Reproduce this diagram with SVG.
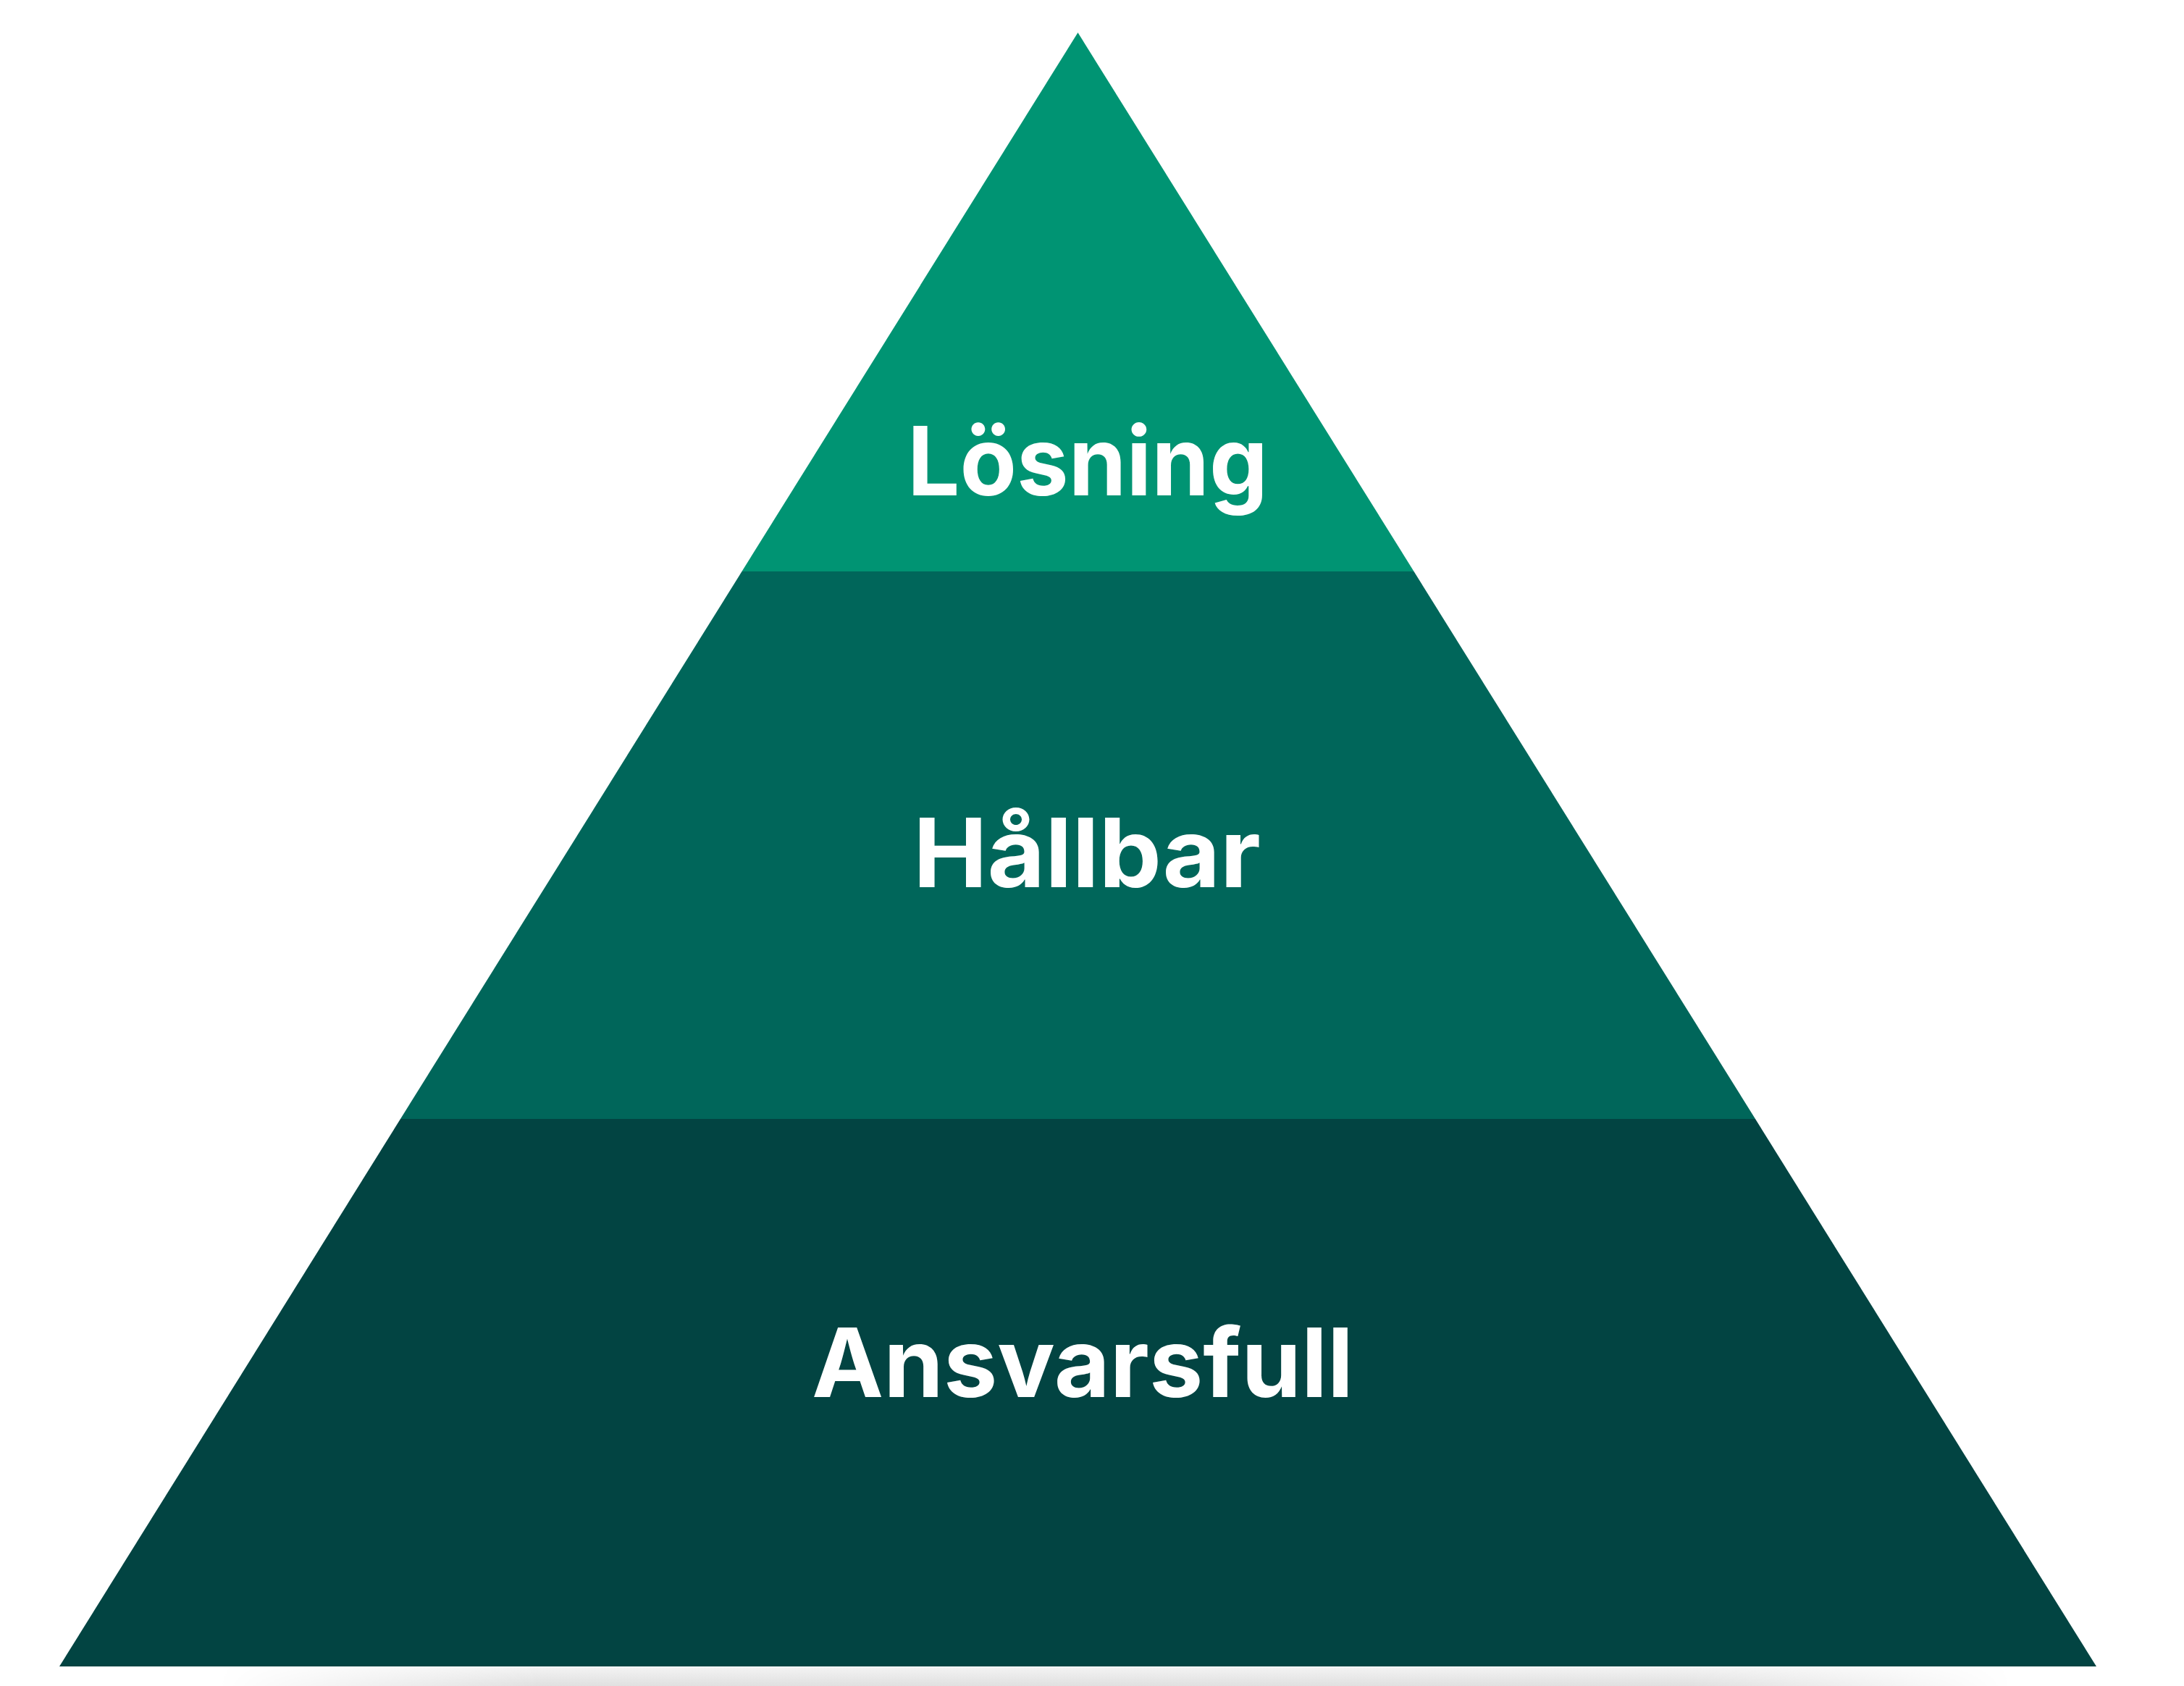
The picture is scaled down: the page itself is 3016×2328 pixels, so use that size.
<svg xmlns="http://www.w3.org/2000/svg" width="3016" height="2328" viewBox="0 0 3016 2328">
  <defs>
    <style>
      .label { font-family: Inter, "Liberation Sans", Arial, sans-serif; font-weight: 700; font-size: 132px; fill: #ffffff; text-anchor: middle; }
    </style>
    <linearGradient id="shadeV" x1="0" y1="0" x2="0" y2="1">
      <stop offset="0" stop-color="#f3f3f3"/>
      <stop offset="1" stop-color="#e0e0e0"/>
    </linearGradient>
    <linearGradient id="fadeH" gradientUnits="userSpaceOnUse" x1="300" y1="0" x2="2780" y2="0">
      <stop offset="0" stop-color="#000"/>
      <stop offset="0.18" stop-color="#fff"/>
      <stop offset="0.82" stop-color="#fff"/>
      <stop offset="1" stop-color="#000"/>
    </linearGradient>
    <mask id="shadowMask" maskUnits="userSpaceOnUse" x="0" y="2290" width="3016" height="40">
      <rect x="300" y="2302" width="2480" height="26" fill="url(#fadeH)"/>
    </mask>
  </defs>
  <rect width="3016" height="2328" fill="#ffffff"/>
  <g id="shadow">
    <rect x="300" y="2302" width="2480" height="26" fill="url(#shadeV)" mask="url(#shadowMask)"/>
  </g>
  <g id="level-top">
    <polygon points="1488.5,45 1024.5,789 1952.5,789" fill="#009473"/>
    <text class="label" x="1502" y="684" textLength="498" lengthAdjust="spacingAndGlyphs">Lösning</text>
  </g>
  <g id="level-middle">
    <polygon points="1024.5,789 1952.5,789 2424,1545 553,1545" fill="#00665a"/>
    <text class="label" x="1501" y="1225" textLength="480" lengthAdjust="spacingAndGlyphs">Hållbar</text>
  </g>
  <g id="level-bottom">
    <polygon points="553,1545 2424,1545 2895,2301 82,2301" fill="#024442"/>
    <text class="label" x="1495" y="1929" textLength="748" lengthAdjust="spacingAndGlyphs">Ansvarsfull</text>
  </g>
  <g id="connectors"/>
</svg>
